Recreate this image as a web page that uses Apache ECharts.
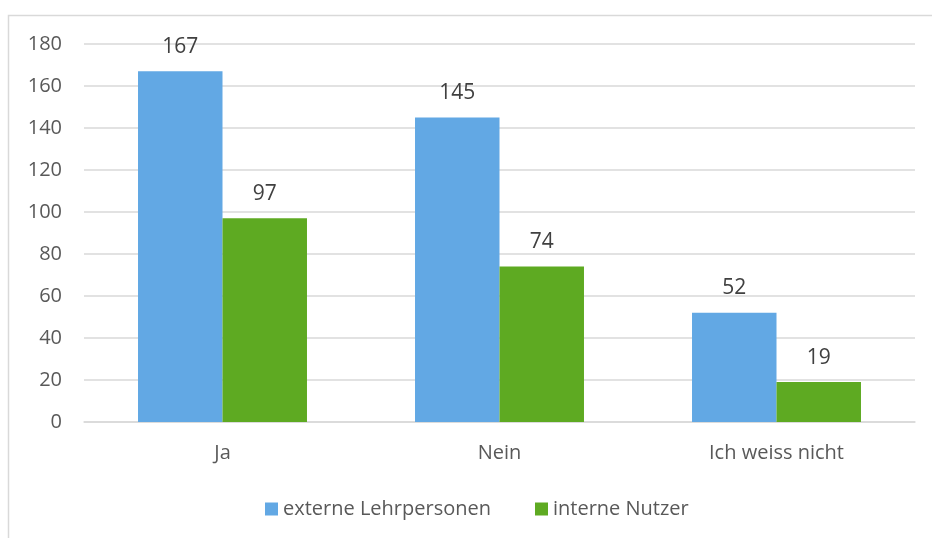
<!DOCTYPE html>
<html>
<head>
<meta charset="utf-8">
<script src="https://cdn.jsdelivr.net/npm/echarts@6/dist/echarts.min.js"></script>
<style>
  html, body { margin: 0; padding: 0; background: #fff; }
  #chart { width: 932px; height: 538px; }
</style>
</head>
<body>
<div id="chart"></div>
<script>
// Daten
const categories = ['Ja', 'Nein', 'Ich weiss nicht']
const externeLehrpersonen = [167, 145, 52]
const interneNutzer = [97, 74, 19]
const seriesNames = ['externe Lehrpersonen', 'interne Nutzer']

const fontFamily = 'Open Sans'
const chart = echarts.init(document.getElementById('chart'))

chart.setOption({
  backgroundColor: '#fff',
  animation: false,
  textStyle: { fontFamily: fontFamily },
  // Rahmen links/oben wie im Original
  graphic: [
    {
      type: 'rect',
      shape: { x: 8.5, y: 15.5, width: 1000, height: 600 },
      style: { fill: 'none', stroke: '#d9d9d9', lineWidth: 1.5 },
      silent: true
    }
  ],
  grid: { left: 84, right: 17, top: 44, bottom: 116 },
  legend: {
    data: seriesNames,
    left: 260,
    top: 494,
    itemWidth: 13,
    itemHeight: 13,
    itemGap: 44,
    icon: 'rect',
    textStyle: { color: '#595959', fontSize: 20, fontFamily: fontFamily }
  },
  xAxis: {
    type: 'category',
    data: categories,
    axisLine: { lineStyle: { color: '#d9d9d9', width: 1.5 } },
    axisTick: { show: false },
    axisLabel: { color: '#595959', fontSize: 20, margin: 21 }
  },
  yAxis: {
    type: 'value',
    min: 0,
    max: 180,
    interval: 20,
    axisLine: { show: false },
    axisTick: { show: false },
    axisLabel: { color: '#595959', fontSize: 20, margin: 22 },
    splitLine: { lineStyle: { color: '#d9d9d9', width: 1.5 } }
  },
  series: [
    {
      name: seriesNames[0],
      type: 'bar',
      data: externeLehrpersonen,
      barGap: '0%',
      barCategoryGap: '39%',
      itemStyle: { color: '#62a8e4' },
      label: { show: true, position: 'top', distance: 14, color: '#404040', fontSize: 21 }
    },
    {
      name: seriesNames[1],
      type: 'bar',
      data: interneNutzer,
      itemStyle: { color: '#5eaa22' },
      label: { show: true, position: 'top', distance: 14, color: '#404040', fontSize: 21 }
    }
  ]
})
</script>
</body>
</html>
